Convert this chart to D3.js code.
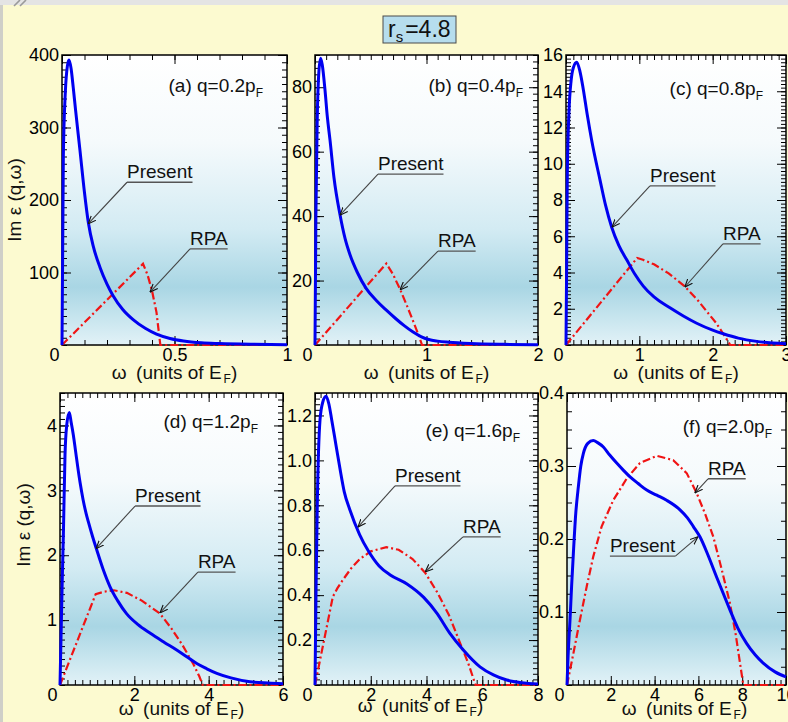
<!DOCTYPE html>
<html>
<head>
<meta charset="utf-8">
<script src="https://cdn.jsdelivr.net/npm/d3@7"></script>
<style>
  html, body { margin: 0; padding: 0; background: #fcfad0; }
  svg { display: block; font-family: "Liberation Sans", Arial, Helvetica, sans-serif; }
</style>
</head>
<body>
<svg id="fig" width="788" height="722"></svg>
<script>
// ---- Im eps(q, omega) at r_s = 4.8 : present theory vs. RPA ----
const densityParam = "4.8";
const panelTags = ["a", "b", "c", "d", "e", "f"];
const qValues = ["0.2", "0.4", "0.8", "1.2", "1.6", "2.0"];
const omegaMax = [1, 2, 3, 6, 8, 10];
const imMax = [400, 90, 16, 4.5, 1.3, 0.4];

const xTickValues = [[0, 0.5, 1], [0, 1, 2], [0, 1, 2, 3], [0, 2, 4, 6], [0, 2, 4, 6, 8], [0, 2, 4, 6, 8, 10]];
const yTickValues = [[100, 200, 300, 400], [20, 40, 60, 80], [2, 4, 6, 8, 10, 12, 14, 16],
                     [1, 2, 3, 4], [0.2, 0.4, 0.6, 0.8, 1.0, 1.2], [0.1, 0.2, 0.3, 0.4]];
const yTickFormat = ["d", "d", "d", "d", ".1f", ".1f"];
const xMinorStep = [0.1, 0.1, 0.1, 0.2, 0.2, 0.25];
const yMinorStep = [10, 2, 0.2, 0.1, 0.025, 0.025];

// [omega (E_F), Im eps]
const presentA = [[0,0],[0.006,260],[0.015,350],[0.024,385],[0.031,393],[0.04,382],[0.05,355],[0.06,325],
  [0.08,268],[0.1,210],[0.117,169],[0.14,135],[0.169,107],[0.2,84],[0.227,68],[0.27,49],[0.316,35],
  [0.37,23],[0.42,15],[0.48,9],[0.54,5.5],[0.62,3],[0.7,2],[0.85,1],[1.0,0.5]];
const rpaA = [[0,0],[0.36,112],[0.38,97],[0.4,75],[0.42,45],[0.437,0],[1.0,0]];

const presentB = [[0,0],[0.008,40],[0.02,70],[0.035,85],[0.05,89],[0.065,87],[0.09,79],[0.11,71],
  [0.135,63.5],[0.17,52],[0.224,40.5],[0.27,33],[0.314,28],[0.38,22.5],[0.46,17.5],[0.55,13.8],
  [0.64,10.8],[0.72,8.3],[0.8,6.0],[0.88,4.0],[0.95,2.6],[1.02,1.7],[1.1,1.2],[1.2,0.85],
  [1.4,0.45],[1.7,0.2],[2.0,0.1]];
const rpaB = [[0,0],[0.64,25.3],[0.7,21.9],[0.76,17.5],[0.82,12.6],[0.88,7.4],[0.93,3],[0.96,0],[2.0,0]];

const presentC = [[0,0],[0.008,4],[0.018,9.5],[0.04,12.8],[0.07,14.6],[0.1,15.3],[0.146,15.6],[0.19,15.1],
  [0.236,14.1],[0.29,12.7],[0.35,11.3],[0.464,9.1],[0.54,7.7],[0.623,6.5],[0.72,5.5],[0.828,4.7],
  [0.94,3.9],[1.054,3.25],[1.2,2.65],[1.418,2.05],[1.6,1.6],[1.782,1.2],[2.0,0.82],[2.145,0.62],
  [2.35,0.38],[2.6,0.2],[3.0,0.07]];
const rpaC = [[0,0],[0.97,4.8],[1.05,4.7],[1.2,4.45],[1.4,3.95],[1.615,3.25],[1.8,2.45],[1.95,1.7],
  [2.05,1.2],[2.15,0.58],[2.24,0],[3.0,0]];

const presentD = [[0,0],[0.03,0.8],[0.06,1.6],[0.09,2.3],[0.135,3.55],[0.18,4.0],[0.25,4.2],[0.3,4.05],
  [0.36,3.85],[0.42,3.6],[0.48,3.35],[0.54,3.12],[0.62,2.86],[0.7,2.65],[0.76,2.52],[0.88,2.28],
  [0.99,2.08],[1.15,1.8],[1.35,1.51],[1.55,1.3],[1.79,1.1],[2.1,0.93],[2.42,0.8],[2.8,0.66],
  [3.14,0.54],[3.4,0.44],[3.68,0.33],[3.95,0.25],[4.22,0.18],[4.6,0.11],[5.11,0.05],[5.6,0.03],[6.0,0.02]];
const rpaD = [[0,0],[0.96,1.4],[1.2,1.44],[1.45,1.46],[1.8,1.42],[2.2,1.3],[2.69,1.1],[3.0,0.87],
  [3.3,0.61],[3.59,0.32],[3.75,0.13],[3.84,0],[6.0,0]];

const presentE = [[0,0],[0.04,0.45],[0.083,0.81],[0.18,1.18],[0.28,1.26],[0.395,1.285],[0.5,1.25],
  [0.6,1.18],[0.75,1.07],[0.9,0.96],[1.05,0.86],[1.25,0.78],[1.6,0.67],[1.9,0.6],[2.3,0.53],
  [2.7,0.49],[3.3,0.45],[3.9,0.39],[4.37,0.32],[4.84,0.23],[5.32,0.156],[5.92,0.081],[6.4,0.045],
  [6.88,0.022],[7.4,0.01],[8.0,0.005]];
const rpaE = [[0,0],[0.64,0.393],[0.8,0.43],[1.0,0.468],[1.3,0.52],[1.6,0.56],[2.0,0.595],[2.56,0.614],
  [3.0,0.602],[3.5,0.561],[3.95,0.5],[4.4,0.41],[4.8,0.313],[5.26,0.17],[5.5,0.096],[5.76,0],[8.0,0]];

const presentF = [[0,0],[0.05,0.04],[0.137,0.089],[0.21,0.135],[0.29,0.18],[0.4,0.235],[0.52,0.272],
  [0.63,0.3],[0.745,0.317],[0.95,0.331],[1.2,0.335],[1.4,0.332],[1.66,0.326],[1.95,0.315],[2.27,0.304],
  [2.58,0.294],[2.88,0.285],[3.25,0.276],[3.64,0.267],[4.1,0.26],[4.55,0.253],[5.16,0.24],[5.5,0.229],
  [5.77,0.217],[6.07,0.203],[6.45,0.177],[6.83,0.148],[7.14,0.125],[7.44,0.103],[7.8,0.078],[8.2,0.057],
  [8.6,0.041],[8.96,0.03],[9.5,0.018],[10.0,0.011]];
const rpaF = [[0,0],[0.29,0.043],[0.59,0.089],[0.9,0.135],[1.2,0.176],[1.58,0.217],[2.11,0.253],
  [2.73,0.283],[3.33,0.304],[4.1,0.314],[4.85,0.308],[5.47,0.29],[5.92,0.263],[6.3,0.235],[6.68,0.203],
  [7.05,0.16],[7.44,0.112],[7.7,0.07],[7.9,0.03],[8.05,0],[10.0,0]];

const presentSeries = [presentA, presentB, presentC, presentD, presentE, presentF];
const rpaSeries = [rpaA, rpaB, rpaC, rpaD, rpaE, rpaF];

// callouts: panel index, text, text anchor (data coords), arrow tip (data coords), arrow start side
const callouts = [
  [0, "Present", [0.289, 230], [0.116, 167], "start"],
  [0, "RPA", [0.569, 138], [0.391, 73], "start"],
  [1, "Present", [0.565, 54.3], [0.224, 40.3], "start"],
  [1, "RPA", [1.103, 30.4], [0.762, 17.1], "start"],
  [2, "Present", [1.145, 9.0], [0.627, 6.5], "start"],
  [2, "RPA", [2.14, 5.8], [1.62, 3.2], "start"],
  [3, "Present", [2.02, 2.82], [0.97, 2.1], "start"],
  [3, "RPA", [3.71, 1.8], [2.69, 1.11], "start"],
  [4, "Present", [2.87, 0.904], [1.54, 0.703], "start"],
  [4, "RPA", [5.31, 0.677], [3.95, 0.503], "start"],
  [5, "RPA", [6.44, 0.288], [5.84, 0.263], "start"],
  [5, "Present", [1.96, 0.182], [5.98, 0.203], "end"]
];

// ---- layout ----
const W = 788, H = 722;
const frames = [
  [62, 55, 287, 345], [315, 55, 538, 345], [566, 55, 786, 345],
  [60, 393, 283, 685], [315, 393, 538, 685], [567, 393, 786, 685]
];
const tagOffset = [[24, 37], [15, 37], [23, 40], [25, 35], [18, 44], [14, 40]];
const xTitleShift = [0, 0, 0, 10, -6, 8];
const xTitleBase = [379, 379, 379, 715, 712, 715];
const blue = "#0000f0", red = "#f01414";
const FS = 18;

const svg = d3.select("#fig");
const defs = svg.append("defs");
const grad = defs.append("linearGradient").attr("id", "plotBg")
  .attr("x1", 0).attr("y1", 0).attr("x2", 0).attr("y2", 1);
[[0, "#ffffff"], [0.3, "#f5fafc"], [0.6, "#d3ebf3"], [0.8, "#a9d6e4"], [1, "#e2f2f7"]]
  .forEach(([o, c]) => grad.append("stop").attr("offset", o).attr("stop-color", c));
defs.append("marker").attr("id", "head").attr("viewBox", "0 0 10 10")
  .attr("refX", 10).attr("refY", 5).attr("markerWidth", 8).attr("markerHeight", 8)
  .attr("markerUnits", "userSpaceOnUse").attr("orient", "auto")
  .append("path").attr("d", "M0,1 L10,5 L0,9").attr("fill", "none")
  .attr("stroke", "#111").attr("stroke-width", 1.4);

// slide backdrop
svg.append("rect").attr("width", W).attr("height", H).attr("fill", "#fcfad0");
svg.append("rect").attr("width", W).attr("height", 5).attr("fill", "#e4e4e4");
svg.append("rect").attr("y", 5).attr("width", 3).attr("height", H - 5).attr("fill", "#cfcfc8");
svg.append("path").attr("d", "M14,6 L20,0 M20,6 L26,0").attr("stroke", "#9a9a9a").attr("stroke-width", 1.6);

// r_s box
const box = svg.append("g");
box.append("rect").attr("x", 383).attr("y", 16).attr("width", 73).attr("height", 27)
  .attr("fill", "#b6dded").attr("stroke", "#4a4a4a").attr("stroke-width", 1);
const bt = box.append("text").attr("x", 388).attr("y", 37).attr("font-size", 23).attr("fill", "#111");
bt.append("tspan").text("r");
bt.append("tspan").attr("font-size", 15).attr("dy", 5).text("s");
bt.append("tspan").attr("dy", -5).attr("dx", 2).text("=" + densityParam);

const scales = [];

frames.forEach((f, i) => {
  const [x0, y0, x1, y1] = f;
  const x = d3.scaleLinear().domain([0, omegaMax[i]]).range([x0, x1]);
  const y = d3.scaleLinear().domain([0, imMax[i]]).range([y1, y0]);
  scales.push({ x, y });
  const g = svg.append("g");

  g.append("rect").attr("x", x0).attr("y", y0).attr("width", x1 - x0).attr("height", y1 - y0)
    .attr("fill", "url(#plotBg)");

  const eps = 1e-9;
  const xMinor = d3.range(0, omegaMax[i] + eps, xMinorStep[i]);
  const yMinor = d3.range(0, imMax[i] + eps, yMinorStep[i]);

  const styleAxis = sel => {
    sel.select(".domain").remove();
    sel.selectAll("line").attr("stroke", "#000").attr("stroke-width", 1);
    sel.selectAll("text").attr("font-size", FS).attr("fill", "#000")
      .attr("font-family", "Liberation Sans, Arial, sans-serif");
  };

  // minor ticks on all four sides
  g.append("g").attr("transform", `translate(0,${y1})`)
    .call(d3.axisBottom(x).tickValues(xMinor).tickSize(-5).tickFormat("")).call(styleAxis);
  g.append("g").attr("transform", `translate(0,${y0})`)
    .call(d3.axisTop(x).tickValues(xMinor).tickSize(-5).tickFormat("")).call(styleAxis);
  g.append("g").attr("transform", `translate(${x0},0)`)
    .call(d3.axisLeft(y).tickValues(yMinor).tickSize(-5).tickFormat("")).call(styleAxis);
  g.append("g").attr("transform", `translate(${x1},0)`)
    .call(d3.axisRight(y).tickValues(yMinor).tickSize(-5).tickFormat("")).call(styleAxis);

  // major ticks and labels
  const xa = g.append("g").attr("transform", `translate(0,${y1})`)
    .call(d3.axisBottom(x).tickValues(xTickValues[i]).tickSize(-9).tickPadding(3)
      .tickFormat(d3.format("~g"))).call(styleAxis);
  xa.selectAll("text").filter(d => d === 0).attr("dx", -8);
  g.append("g").attr("transform", `translate(0,${y0})`)
    .call(d3.axisTop(x).tickValues(xTickValues[i]).tickSize(-9).tickFormat("")).call(styleAxis);
  g.append("g").attr("transform", `translate(${x0},0)`)
    .call(d3.axisLeft(y).tickValues(yTickValues[i]).tickSize(-9).tickPadding(3)
      .tickFormat(d3.format(yTickFormat[i]))).call(styleAxis);
  g.append("g").attr("transform", `translate(${x1},0)`)
    .call(d3.axisRight(y).tickValues(yTickValues[i]).tickSize(-9).tickFormat("")).call(styleAxis);

  // frame
  g.append("rect").attr("x", x0).attr("y", y0).attr("width", x1 - x0).attr("height", y1 - y0)
    .attr("fill", "none").attr("stroke", "#000").attr("stroke-width", 1.5);

  // curves
  const lineSmooth = d3.line().x(d => x(d[0])).y(d => y(d[1])).curve(d3.curveMonotoneX);
  const lineRpa = d3.line().x(d => x(d[0])).y(d => y(d[1]));
  g.append("path").attr("d", lineRpa(rpaSeries[i])).attr("fill", "none")
    .attr("stroke", red).attr("stroke-width", 2.2).attr("stroke-dasharray", "8,3,2,3");
  g.append("path").attr("d", lineSmooth(presentSeries[i])).attr("fill", "none")
    .attr("stroke", blue).attr("stroke-width", 3).attr("stroke-linejoin", "round");

  // panel tag
  const tag = g.append("text").attr("x", x1 - tagOffset[i][0]).attr("y", y0 + tagOffset[i][1])
    .attr("text-anchor", "end").attr("font-size", 19).attr("fill", "#111");
  tag.append("tspan").text(`(${panelTags[i]}) q=${qValues[i]}p`);
  tag.append("tspan").attr("font-size", 12).attr("dy", 5).text("F");

  // x title
  const xt = g.append("text").attr("x", (x0 + x1) / 2 + xTitleShift[i]).attr("y", xTitleBase[i])
    .attr("text-anchor", "middle").attr("font-size", 19).attr("fill", "#111");
  xt.append("tspan").text("ω\u2002(units of E");
  xt.append("tspan").attr("font-size", 12).attr("dy", 4).attr("dx", 2).text("F");
  xt.append("tspan").attr("dy", -4).text(")");
});

// y titles
[[0, 21, 200], [3, 30, 525]].forEach(([i, tx, ty]) => {
  svg.append("text").attr("transform", `translate(${tx},${ty}) rotate(-90)`)
    .attr("text-anchor", "middle").attr("font-size", 19).attr("fill", "#111")
    .text("Im ε (q,ω)");
});

// callouts
callouts.forEach(([p, label, at, tip, side]) => {
  const { x, y } = scales[p];
  const tx = x(at[0]), ty = y(at[1]);
  const t = svg.append("text").attr("x", tx).attr("y", ty).attr("font-size", 19)
    .attr("fill", "#111").text(label);
  const w = t.node().getComputedTextLength();
  const uy = ty + 4;
  svg.append("line").attr("x1", tx).attr("x2", tx + w).attr("y1", uy).attr("y2", uy)
    .attr("stroke", "#555").attr("stroke-width", 1.3);
  const sx = side === "end" ? tx + w : tx;
  svg.append("line").attr("x1", sx).attr("y1", uy).attr("x2", x(tip[0])).attr("y2", y(tip[1]))
    .attr("stroke", "#444").attr("stroke-width", 1.1).attr("marker-end", "url(#head)");
});
</script>
</body>
</html>
